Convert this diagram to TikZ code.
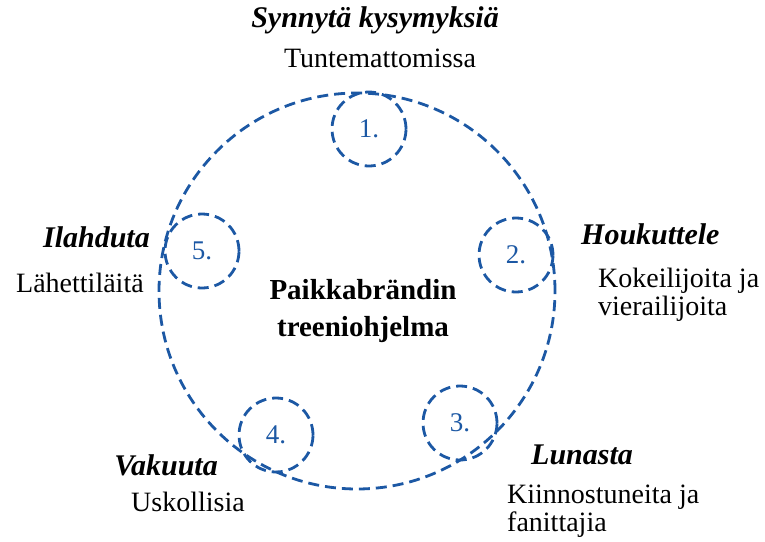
\documentclass[tikz,border=0pt]{standalone}
\usepackage{fontspec}
\setmainfont{Liberation Serif}
\usetikzlibrary{positioning}
\definecolor{ringblue}{RGB}{28,88,164}
\tikzset{ring/.style={draw=ringblue,line width=2.8pt,dash pattern=on 11pt off 6pt,circle}}
\tikzset{stage/.style={ring,minimum size=74pt,inner sep=0pt,text=ringblue,font=\fontsize{27}{27}\selectfont}}
\tikzset{head/.style={inner sep=0pt,font=\fontsize{30}{30}\selectfont\bfseries\itshape}}
\tikzset{aud/.style={inner sep=0pt,align=left,font=\fontsize{28}{28}\selectfont}}

\begin{document}
\begin{tikzpicture}[x=1pt,y=-1pt]
\useasboundingbox (0,0) rectangle (765,541);

% outer ring and program title
\node[ring,minimum size=396pt,inner sep=0pt] (prog) at (357,291) {};
\node[align=center,inner sep=0pt,font=\fontsize{29}{37}\selectfont\bfseries] (title) at (363,311) {Paikkabrändin\\treeniohjelma};

% stages
\node[stage] (s1) at (369,129) {1.};
\node[stage] (s2) at (516,255) {2.};
\node[stage] (s3) at (460,423) {3.};
\node[stage] (s4) at (276,435) {4.};
\node[stage] (s5) at (202,251) {5.};

% labels
\node[head] (h1) at (375,20) {Synnytä kysymyksiä};
\node[aud] (a1) at (380,58) {Tuntemattomissa};

\node[head,anchor=west] (h2) at (581,234) {Houkuttele};
\node[aud,anchor=north west] (a2) at (598,268) {Kokeilijoita ja\\vierailijoita};

\node[head,anchor=west] (h3) at (531,455) {Lunasta};
\node[aud,anchor=north west] (a3) at (507,485) {Kiinnostuneita ja\\fanittajia};

\node[head,anchor=east] (h4) at (218,465) {Vakuuta};
\node[aud,anchor=west] (a4) at (131,502) {Uskollisia};

\node[head,anchor=east] (h5) at (150,237) {Ilahduta};
\node[aud,anchor=west] (a5) at (16,283) {Lähettiläitä};

\end{tikzpicture}
\end{document}
